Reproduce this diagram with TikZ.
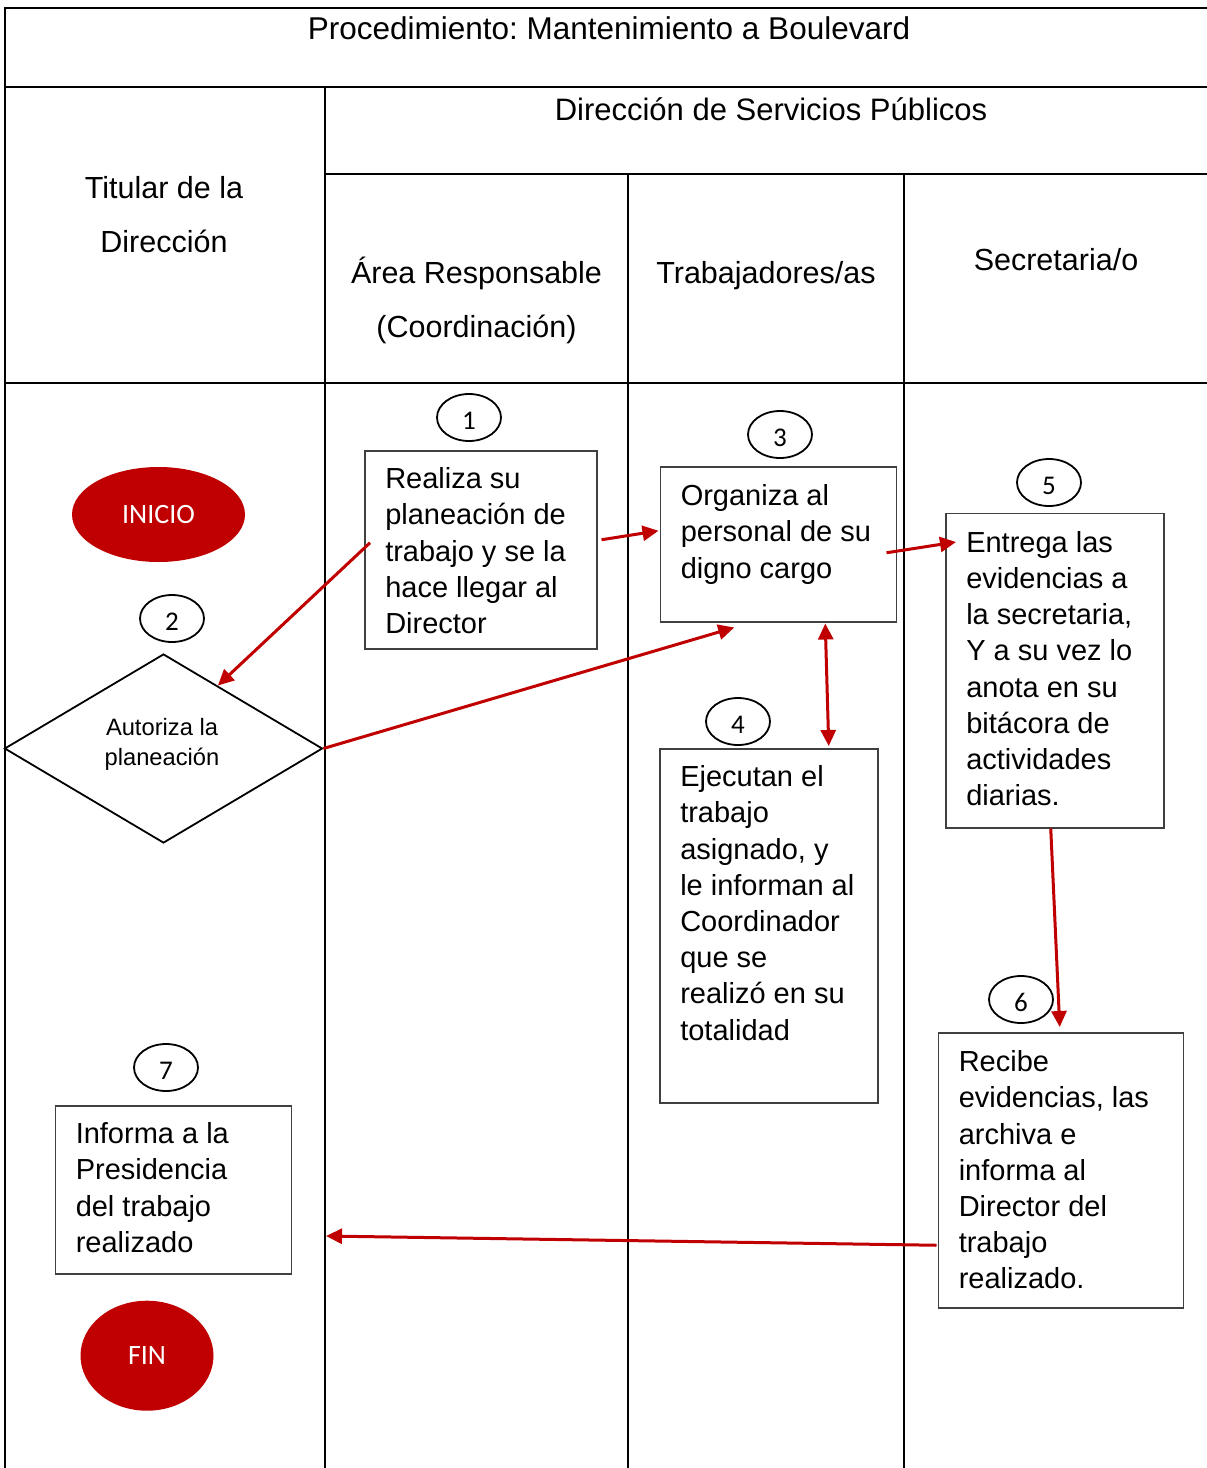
\documentclass[tikz,border=0pt]{standalone}
\usepackage{fontspec}
\setmainfont{Liberation Sans}
\newfontfamily\calibrifont{Carlito}
\usetikzlibrary{shapes.geometric,arrows.meta,calc}
\definecolor{flowred}{HTML}{C00000}
\definecolor{boxgray}{HTML}{404040}
\frenchspacing
% text of a step box: height, width, first-baseline drop, lines
\newcommand{\steptext}[4]{\parbox[c][#1][t]{#2}{\raggedright\rule{0pt}{#3}#4}}
\newcommand{\headlines}[2]{\parbox[t]{#1}{\centering #2}}
% extra room above a digit sets it a little below the ellipse centre
\newcommand{\tagnum}[1]{\raisebox{0pt}[\dimexpr\height+6pt\relax][\depth]{#1}}
\begin{document}
\begin{tikzpicture}[x=1pt,y=-1pt,
  lane/.style={line width=2pt, draw=black},
  stepbox/.style={draw=boxgray, line width=1.5pt, inner xsep=20.5pt, inner ysep=0pt,
    anchor=north west, font=\fontsize{29}{36.2}\selectfont},
  numtag/.style={draw=black, line width=1.8pt, ellipse, minimum width=64pt,
    minimum height=47pt, inner sep=0pt, font=\calibrifont\fontsize{27}{30}\selectfont},
  terminal/.style={ellipse, fill=flowred, text=white, inner sep=0pt,
    font=\calibrifont\fontsize{28}{30}\selectfont},
  decision/.style={diamond, draw=black, line width=1.8pt, inner sep=0pt,
    aspect=1.68, minimum width=318pt, minimum height=189pt,
    font=\fontsize{23.7}{30}\selectfont},
  headtext/.style={inner sep=0pt, anchor=base, font=\fontsize{30.5}{54}\selectfont},
  flow/.style={draw=flowred, line width=3pt, -{Triangle[length=16pt,width=15pt]}},
  flowboth/.style={draw=flowred, line width=3pt,
    {Triangle[length=16pt,width=15pt]}-{Triangle[length=16pt,width=15pt]}}
]
\useasboundingbox (0,0) rectangle (1207,1468);

% table grid
\draw[lane] (4,8) -- (1207,8);
\draw[lane] (5,8) -- (5,1468);
\draw[lane] (4,86.5) -- (1207,86.5);
\draw[lane] (325,86.5) -- (325,1468);
\draw[lane] (325,174) -- (1207,174);
\draw[lane] (628,174) -- (628,1468);
\draw[lane] (904,174) -- (904,1468);
\draw[lane] (4,383) -- (1207,383);

% headings
\node[headtext, font=\fontsize{31.5}{54}\selectfont] (title) at (609,39) {Procedimiento: Mantenimiento a Boulevard};
\node[headtext, font=\fontsize{31}{54}\selectfont] (dsp) at (771,120) {Dirección de Servicios Públicos};
\node[headtext] (hTitular) at (164,198) {\headlines{240pt}{Titular de la\\Dirección}};
\node[headtext] (hArea) at (476.5,283) {\headlines{290pt}{Área Responsable\\(Coordinación)}};
\node[headtext] (hTrab) at (766,283) {Trabajadores/as};
\node[headtext] (hSecr) at (1056,270) {Secretaria/o};

% start and end
\node[terminal, minimum width=173pt, minimum height=95pt] (inicio) at (158.5,514.5) {INICIO};
\node[terminal, minimum width=133pt, minimum height=110pt] (fin) at (147,1355.7) {FIN};

% step numbers
\node[numtag] (n1) at (469,417.5) {\tagnum{1}};
\node[numtag] (n2) at (172,618.5) {\tagnum{2}};
\node[numtag] (n3) at (780,434.5) {\tagnum{3}};
\node[numtag] (n4) at (738,721.5) {\tagnum{4}};
\node[numtag] (n5) at (1049,482.5) {\tagnum{5}};
\node[numtag] (n6) at (1021,999.5) {\tagnum{6}};
\node[numtag] (n7) at (166,1067.5) {\tagnum{7}};

% steps
\node[stepbox] (b1) at (364,450) {\steptext{198pt}{191pt}{38pt}{Realiza su\\planeación de\\trabajo y se la\\hace llegar al\\Director}};
\node[decision] (dia) at (163.5,748.5) {\raisebox{0pt}[\height][\dimexpr\depth+8pt\relax]{\parbox{118pt}{\centering Autoriza la\\planeación}}\hspace*{3pt}};
\node[stepbox] (b3) at (659.5,466) {\steptext{155pt}{195pt}{39pt}{Organiza al\\personal de su\\digno cargo}};
\node[stepbox] (b4) at (659,748) {\steptext{354pt}{177pt}{38pt}{Ejecutan el\\trabajo\\asignado, y\\le informan al\\Coordinador\\que se\\realizó en su\\totalidad}};
\node[stepbox] (b5) at (945,512.5) {\steptext{314.5pt}{177pt}{39pt}{Entrega las\\evidencias a\\la secretaria,\\Y a su vez lo\\anota en su\\bitácora de\\actividades\\diarias.}};
\node[stepbox] (b6) at (937.5,1032) {\steptext{275pt}{204pt}{39pt}{Recibe\\evidencias, las\\archiva e\\informa al\\Director del\\trabajo\\realizado.}};
\node[stepbox] (b7) at (54.5,1105) {\steptext{168pt}{195pt}{38pt}{Informa a la\\Presidencia\\del trabajo\\realizado}};

% end point of the return arrow on the lane border
\coordinate (toTitular) at (326,1236);

% connectors
\draw[flow] ($(b1.west)+(6,-7)$) -- ($(dia.north)!0.34!(dia.east)$);
\draw[flow] ($(b1.east)+(4,-10)$) -- ($(b3.west)+(-1,-13.5)$);
\draw[flow] (dia.east) -- ($(b3.south)+(-44,5)$);
\draw[flowboth] ($(b3.south)+(47,1)$) -- ($(b4.north)+(60,-2)$);
\draw[flow] ($(b3.east)+(-10.5,8.5)$) -- ($(b5.north west)+(11,29.5)$);
\draw[flow] ($(b5.south)+(-4,0)$) -- ($(b6.north)+(-1,-5)$);
\draw[flow] ($(b6.west)+(-1,75)$) -- (toTitular);
\end{tikzpicture}
\end{document}
